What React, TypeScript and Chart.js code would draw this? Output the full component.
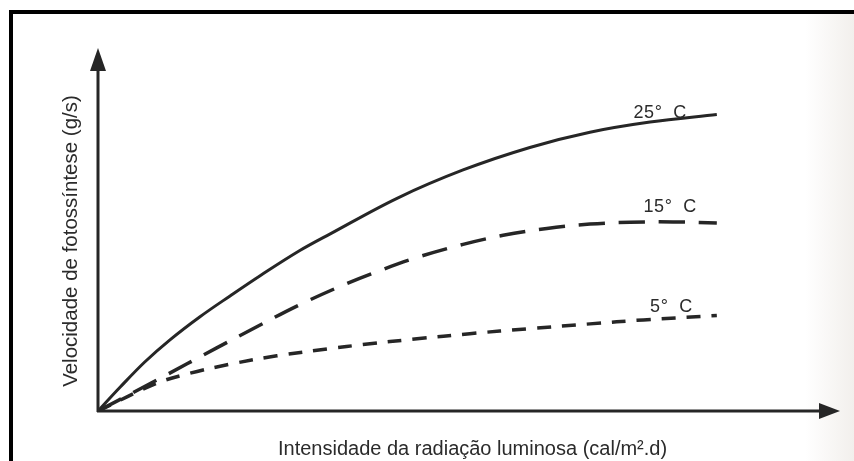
import React, { useEffect, useRef } from "react";
import { Chart, registerables } from "chart.js";

Chart.register(...registerables);

// Light intensity (relative units, 0–100) and photosynthesis rate (relative units, 0–100)
const intensity25 = [0, 3.0, 6.3, 9.7, 13.7, 17.8, 21.8, 27.2, 31.3, 40.3, 49.2, 58.2, 66.3, 74.4, 83.4];
const rate25 = [0, 6.6, 13.5, 19.6, 25.9, 31.7, 37.2, 44.2, 48.8, 58.6, 66.4, 72.6, 76.8, 79.6, 81.7];

const intensity15 = [0, 8.0, 16.0, 21.4, 26.8, 32.6, 37.1, 43.0, 49.2, 54.6, 60.5, 66.3, 71.7, 77.5, 83.4];
const rate15 = [0, 8.6, 17.4, 23.2, 28.9, 34.3, 38.0, 42.3, 45.9, 48.4, 50.3, 51.5, 52.0, 52.1, 51.8];

const intensity5 = [0, 8.0, 12.4, 17.8, 24.1, 31.3, 35.7, 43.0, 50.1, 58.2, 66.3, 73.5, 83.4];
const rate5 = [0, 7.7, 10.4, 12.9, 15.2, 17.2, 18.3, 19.9, 21.3, 22.7, 24.0, 25.1, 26.3];

const seriesLabels = ["25°  C", "15°  C", "5°  C"];
const xTitle = "Intensidade da radiação luminosa (cal/m².d)";
const yTitle = "Velocidade de fotossíntese (g/s)";

// label offsets relative to each curve's end (layout only)
const labelOffsets = [
  { dx: -30, dy: 4 },
  { dx: -20, dy: -11 },
  { dx: -24, dy: -4 },
];

const INK = "#262626";
const FONT = '"Liberation Sans", Arial, Helvetica, sans-serif';

const toPoints = (xs: number[], ys: number[]) => xs.map((x, i) => ({ x, y: ys[i] }));

const decorPlugin = {
  id: "decor",
  beforeDraw(chart: any) {
    const ctx = chart.ctx as CanvasRenderingContext2D;
    const w = chart.width;
    const h = chart.height;
    ctx.save();
    ctx.fillStyle = "#ffffff";
    ctx.fillRect(0, 0, w, h);
    // faint scanned paper tint on the right edge
    const g = ctx.createLinearGradient(805, 0, w, 0);
    g.addColorStop(0, "rgba(238,234,230,0)");
    g.addColorStop(1, "rgba(238,234,230,0.75)");
    ctx.fillStyle = g;
    ctx.fillRect(805, 14, w - 805, h - 14);
    // frame
    ctx.fillStyle = "#000";
    ctx.fillRect(9, 10, w - 9, 4);
    ctx.fillRect(9, 10, 4, h - 10);
    ctx.restore();
  },
  afterDraw(chart: any) {
    const ctx = chart.ctx as CanvasRenderingContext2D;
    const xs = chart.scales.x;
    const ys = chart.scales.y;
    const ox = xs.getPixelForValue(0);
    const oy = ys.getPixelForValue(0);
    const top = chart.chartArea.top;
    const right = chart.chartArea.right;
    ctx.save();
    ctx.strokeStyle = INK;
    ctx.fillStyle = INK;
    ctx.lineWidth = 3;
    // y axis
    ctx.beginPath();
    ctx.moveTo(ox, oy + 1);
    ctx.lineTo(ox, top + 18);
    ctx.stroke();
    ctx.beginPath();
    ctx.moveTo(ox, top);
    ctx.lineTo(ox - 8, top + 23);
    ctx.lineTo(ox + 8, top + 23);
    ctx.closePath();
    ctx.fill();
    // x axis
    ctx.beginPath();
    ctx.moveTo(ox - 1, oy);
    ctx.lineTo(right - 16, oy);
    ctx.stroke();
    ctx.beginPath();
    ctx.moveTo(right, oy);
    ctx.lineTo(right - 21, oy - 8);
    ctx.lineTo(right - 21, oy + 8);
    ctx.closePath();
    ctx.fill();

    // titles
    ctx.fillStyle = "#2b2b2b";
    ctx.font = `20px ${FONT}`;
    ctx.textAlign = "left";
    ctx.textBaseline = "alphabetic";
    ctx.fillText(xTitle, 278, 455);
    ctx.save();
    ctx.translate(77, 241);
    ctx.rotate(-Math.PI / 2);
    ctx.textAlign = "center";
    ctx.font = `20.5px ${FONT}`;
    ctx.fillText(yTitle, 0, 0);
    ctx.restore();

    // curve labels
    ctx.font = `18px ${FONT}`;
    (ctx as any).letterSpacing = "0.5px";
    ctx.textAlign = "right";
    chart.data.datasets.forEach((ds: any, i: number) => {
      const last = ds.data[ds.data.length - 1];
      const px = xs.getPixelForValue(last.x);
      const py = ys.getPixelForValue(last.y);
      const off = labelOffsets[i];
      ctx.fillText(seriesLabels[i], px + off.dx, py + off.dy);
    });
    ctx.restore();
  },
};

export default function App() {
  const ref = useRef<HTMLCanvasElement | null>(null);

  useEffect(() => {
    document.body.style.margin = "0";
    const canvas = ref.current;
    if (!canvas) return;
    const common = {
      borderColor: INK,
      pointRadius: 0,
      tension: 0.35,
      fill: false,
      borderCapStyle: "butt",
    };
    const chart = new Chart(canvas, {
      type: "line",
      data: {
        datasets: [
          { ...common, label: seriesLabels[0], data: toPoints(intensity25, rate25), borderWidth: 3 },
          {
            ...common,
            label: seriesLabels[1],
            data: toPoints(intensity15, rate15),
            borderWidth: 3.5,
            borderDash: [26, 14],
          },
          {
            ...common,
            label: seriesLabels[2],
            data: toPoints(intensity5, rate5),
            borderWidth: 3.5,
            borderDash: [14, 11],
          },
        ],
      },
      options: {
        responsive: false,
        animation: false,
        layout: { padding: { left: 98, right: 14, top: 48, bottom: 50 } },
        plugins: { legend: { display: false }, tooltip: { enabled: false } },
        scales: {
          x: { type: "linear", min: 0, max: 100, display: false },
          y: { type: "linear", min: 0, max: 100, display: false },
        },
      },
      plugins: [decorPlugin],
    } as any);
    return () => chart.destroy();
  }, []);

  return (
    <div style={{ width: 854, height: 461 }}>
      <canvas ref={ref} width={854} height={461} style={{ display: "block" }} />
    </div>
  );
}
